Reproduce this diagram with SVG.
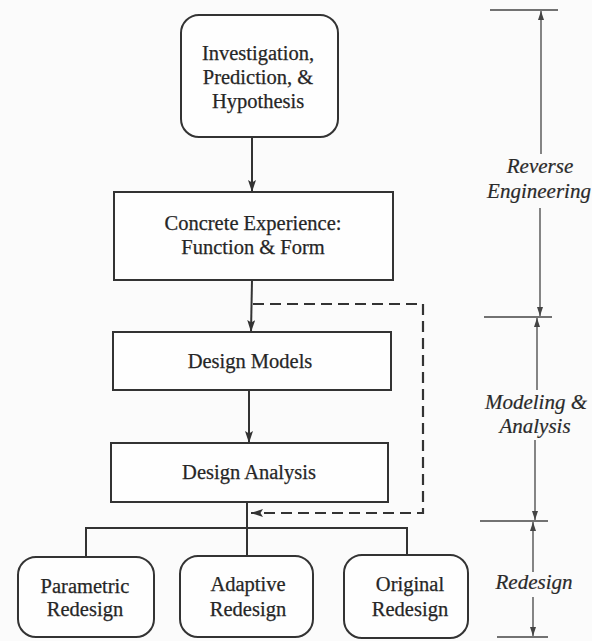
<svg xmlns="http://www.w3.org/2000/svg" width="592" height="641" viewBox="0 0 592 641">
  <defs>
    <style>
      .box { fill: #fefefe; stroke: #333; stroke-width: 2; }
      .lbl { font-family: "Liberation Serif", "Times New Roman", serif; font-size: 20.5px; fill: #262626; stroke: #262626; stroke-width: 0.25; text-anchor: middle; }
      .side { font-family: "Liberation Serif", "Times New Roman", serif; font-size: 21px; font-style: italic; fill: #2a2a2a; stroke: #2a2a2a; stroke-width: 0.2; text-anchor: middle; }
      .flow { fill: none; stroke: #333; stroke-width: 2; }
      .dash { fill: none; stroke: #333; stroke-width: 2.2; stroke-dasharray: 11 6; }
      .dim { fill: none; stroke: #444; stroke-width: 1.3; }
      .tick { fill: none; stroke: #444; stroke-width: 1.6; }
    </style>
    <marker id="arrow" viewBox="0 0 12 8" refX="12" refY="4" markerWidth="12" markerHeight="8" markerUnits="userSpaceOnUse" orient="auto">
      <path d="M0,0 L12,4 L0,8 L2.5,4 z" fill="#333"/>
    </marker>
    <marker id="dimArrow" viewBox="0 0 9 6" refX="9" refY="3" markerWidth="9" markerHeight="6" markerUnits="userSpaceOnUse" orient="auto">
      <path d="M0,0 L9,3 L0,6 z" fill="#444"/>
    </marker>
  </defs>

  <rect width="592" height="641" fill="#fbfbfb"/>

  <!-- connectors -->
  <g id="connectors">
    <line class="flow" x1="252" y1="137" x2="252" y2="192" marker-end="url(#arrow)"/>
    <line class="flow" x1="252" y1="280" x2="251" y2="332" marker-end="url(#arrow)"/>
    <line class="flow" x1="249" y1="390" x2="249" y2="443" marker-end="url(#arrow)"/>
    <!-- feedback loop -->
    <path class="dash" d="M253,304 H423 V513 H251" marker-end="url(#arrow)"/>
    <!-- branch to redesign types -->
    <line class="flow" x1="247" y1="502" x2="247" y2="556"/>
    <path class="flow" d="M86,557 V528 H407 V555"/>
  </g>

  <!-- flow nodes -->
  <g id="node-investigation">
    <rect class="box" x="181" y="15" width="157" height="122" rx="18"/>
    <text class="lbl" x="258" y="60">Investigation,</text>
    <text class="lbl" x="258" y="84">Prediction, &amp;</text>
    <text class="lbl" x="258" y="108">Hypothesis</text>
  </g>

  <g id="node-concrete">
    <rect class="box" x="114" y="192" width="279" height="88"/>
    <text class="lbl" x="253" y="230">Concrete Experience:</text>
    <text class="lbl" x="253" y="254">Function &amp; Form</text>
  </g>

  <g id="node-models">
    <rect class="box" x="113" y="332" width="278" height="58"/>
    <text class="lbl" x="250" y="368">Design Models</text>
  </g>

  <g id="node-analysis">
    <rect class="box" x="111" y="443" width="277" height="59"/>
    <text class="lbl" x="249" y="479">Design Analysis</text>
  </g>

  <g id="node-parametric">
    <rect class="box" x="18" y="557" width="136" height="80" rx="18"/>
    <text class="lbl" x="85" y="593">Parametric</text>
    <text class="lbl" x="85" y="616">Redesign</text>
  </g>

  <g id="node-adaptive">
    <rect class="box" x="180" y="556" width="133" height="81" rx="18"/>
    <text class="lbl" x="248" y="591">Adaptive</text>
    <text class="lbl" x="248" y="616">Redesign</text>
  </g>

  <g id="node-original">
    <rect class="box" x="344" y="555" width="124" height="83" rx="18"/>
    <text class="lbl" x="410" y="591">Original</text>
    <text class="lbl" x="410" y="616">Redesign</text>
  </g>

  <!-- phase brackets on the right -->
  <g id="phase-reverse">
    <line class="tick" x1="490" y1="10" x2="558" y2="10"/>
    <line class="dim" x1="541" y1="154" x2="541" y2="11" marker-end="url(#dimArrow)"/>
    <line class="dim" x1="540" y1="208" x2="540" y2="316" marker-end="url(#dimArrow)"/>
    <text class="side" x="540" y="173">Reverse</text>
    <text class="side" x="539" y="198">Engineering</text>
  </g>

  <g id="phase-modeling">
    <line class="tick" x1="484" y1="317" x2="552" y2="317"/>
    <line class="dim" x1="537" y1="390" x2="537" y2="318" marker-end="url(#dimArrow)"/>
    <line class="dim" x1="535" y1="440" x2="535" y2="520" marker-end="url(#dimArrow)"/>
    <text class="side" x="536" y="409">Modeling &amp;</text>
    <text class="side" x="535" y="433">Analysis</text>
  </g>

  <g id="phase-redesign">
    <line class="tick" x1="480" y1="521" x2="548" y2="521"/>
    <line class="dim" x1="533" y1="572" x2="533" y2="522" marker-end="url(#dimArrow)"/>
    <line class="dim" x1="533" y1="597" x2="533" y2="636" marker-end="url(#dimArrow)"/>
    <line class="tick" x1="497" y1="637" x2="548" y2="637"/>
    <text class="side" x="534" y="589">Redesign</text>
  </g>
</svg>
